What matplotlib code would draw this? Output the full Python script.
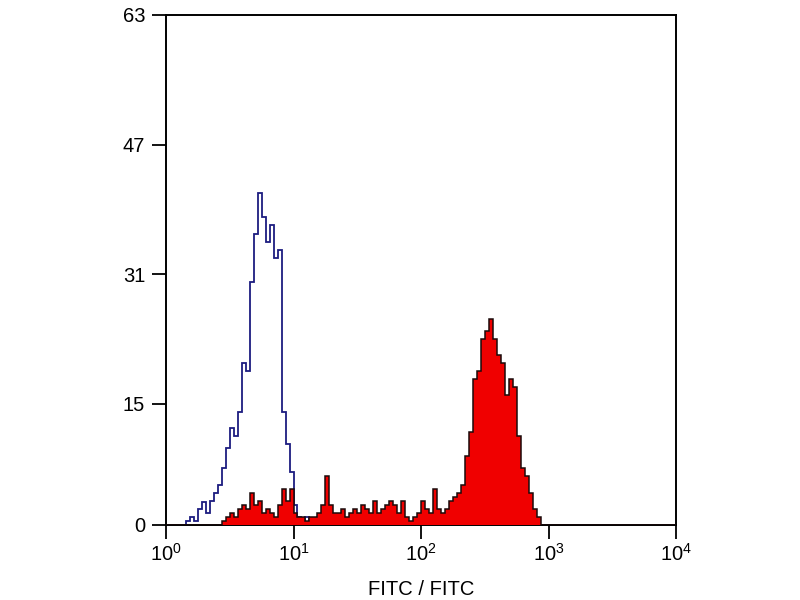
import numpy as np
import matplotlib
matplotlib.use("Agg")
import matplotlib.pyplot as plt

plt.rcParams['font.family'] = ['Liberation Sans', 'DejaVu Sans']
plt.rcParams['mathtext.default'] = 'regular'

# 128 log-spaced channels spanning 10^0 .. 10^4
n_channels = 128
blue_start = 5
blue_counts = [0.5, 1, 0.5, 2, 2.8, 1.5, 3, 4, 5, 7, 9.5, 12, 11, 14, 20, 19,
               30, 36, 41, 38, 35, 37, 33, 34, 14, 10, 6.5, 2.5, 1,
               0.5, 1, 0.5, 0.5, 1, 0.5, 0.3, 0.5, 1, 0.5, 0.3, 0.5]
red_start = 14
red_counts = [0.5, 1, 1.5, 1, 2, 2.5, 2, 4, 2.5, 3, 1.5, 2, 1.5, 1, 2.5, 4.5,
              3, 4.5, 1.5, 1, 1, 0.5, 1, 1, 1.5, 2.5, 6, 2.5, 1.5, 1.5, 2, 1,
              1.5, 2, 1.5, 2.5, 2, 1.5, 3, 1.5, 2, 2.5, 3, 2.5, 1.5, 3, 1, 0.5,
              1, 1.5, 3, 2, 1.5, 4.5, 2, 1.5, 2, 3, 3.5, 4, 5, 8.5, 11.5, 18,
              19, 23, 24, 25.5, 23, 21, 20, 16, 18, 17, 11, 7, 6, 4, 2, 1]

y_ticks = [0, 15, 31, 47, 63]
x_decades = [0, 1, 2, 3, 4]
x_label = "FITC / FITC"

edges = np.logspace(0, 4, n_channels + 1)

def full(start, vals):
    a = np.zeros(n_channels)
    a[start:start + len(vals)] = vals
    return a

blue = full(blue_start, blue_counts)
red = full(red_start, red_counts)

fig = plt.figure(figsize=(8, 6), dpi=100)
ax = fig.add_axes([0.2075, 0.125, 0.6375, 0.85])

ax.stairs(blue, edges, color='#1c1c80', linewidth=1.3, zorder=2)
ax.stairs(red, edges, fill=True, facecolor='#f00000', edgecolor='none', zorder=3)
ax.stairs(red, edges, color='#1a0a0a', linewidth=1.1, zorder=4)

ax.set_xscale('log')
ax.set_xlim(1, 1e4)
ax.set_ylim(0, 63)
ax.set_yticks(y_ticks)
ax.set_yticklabels([str(v) for v in y_ticks], fontsize=14.5)
ax.set_xticks([10.0 ** d for d in x_decades])
ax.set_xticklabels([r'$10^{%d}$' % d for d in x_decades], fontsize=14.5)
ax.xaxis.set_minor_locator(matplotlib.ticker.NullLocator())
ax.tick_params(axis='both', direction='out', length=10, width=1.3, color='black')
ax.tick_params(axis='y', pad=5)
ax.tick_params(axis='x', pad=3)
for s in ax.spines.values():
    s.set_linewidth(1.4)
ax.set_xlabel(x_label, fontsize=14.5, labelpad=11)

fig.savefig('out.png', dpi=100)
